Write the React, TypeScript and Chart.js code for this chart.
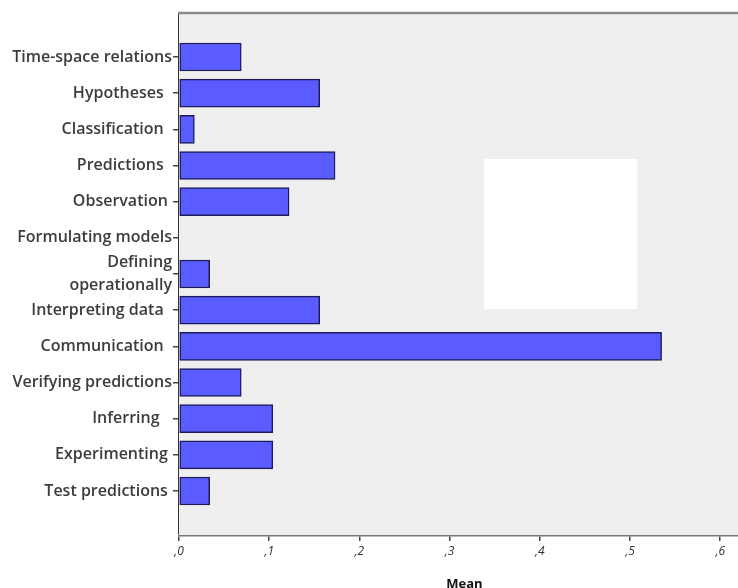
import { useEffect, useRef } from 'react';
import { Chart, registerables } from 'chart.js';

Chart.register(...registerables);

const categories: (string | string[])[] = [
  'Time-space relations',
  'Hypotheses  ',
  'Classification  ',
  'Predictions  ',
  'Observation ',
  'Formulating models',
  ['Defining', 'operationally'],
  'Interpreting data  ',
  'Communication  ',
  'Verifying predictions',
  'Inferring   ',
  'Experimenting ',
  'Test predictions ',
];
const means = [0.069, 0.156, 0.017, 0.173, 0.122, 0, 0.034, 0.156, 0.535, 0.069, 0.104, 0.104, 0.034];
const xTickValues = [0, 0.1, 0.2, 0.3, 0.4, 0.5, 0.6];
const xTickLabels = [',0', ',1', ',2', ',3', ',4', ',5', ',6'];
const axisTitle = 'Mean';
const xMax = 0.633;
const yEdgePad = 1.217;
// blank (white) patch in the reference, in data units
const blankX = [0.338, 0.508];
const blankY = [2.82, 6.97];

export default function App() {
  const ref = useRef<HTMLCanvasElement | null>(null);

  useEffect(() => {
    const canvas = ref.current;
    if (!canvas) return;

    const bgPlugin = {
      id: 'bgPlugin',
      beforeDatasetsDraw(chart: any) {
        const { ctx, chartArea, scales } = chart;
        ctx.save();
        ctx.fillStyle = '#efefef';
        ctx.fillRect(chartArea.left, chartArea.top, chartArea.right - chartArea.left, chartArea.bottom - chartArea.top);
        const x0 = scales.x.getPixelForValue(blankX[0]);
        const x1 = scales.x.getPixelForValue(blankX[1]);
        const y0 = scales.y.getPixelForValue(blankY[0]);
        const y1 = scales.y.getPixelForValue(blankY[1]);
        ctx.fillStyle = '#ffffff';
        ctx.fillRect(x0, y0, x1 - x0, y1 - y0);
        ctx.restore();
      },
      afterDraw(chart: any) {
        const { ctx, chartArea } = chart;
        ctx.save();
        ctx.strokeStyle = '#8c8c8c';
        ctx.lineWidth = 2.5;
        ctx.beginPath();
        ctx.moveTo(chartArea.left - 1, chartArea.top);
        ctx.lineTo(chartArea.right, chartArea.top);
        ctx.stroke();
        ctx.restore();
      },
    };

    const chart = new Chart(canvas, {
      type: 'bar',
      data: {
        datasets: [
          {
            data: means.map((v, i) => ({ x: v, y: i })),
            backgroundColor: '#5a5cff',
            borderColor: '#1c1c5c',
            borderWidth: 1.5,
            borderSkipped: false,
            barThickness: 28,
          },
        ],
      },
      options: {
        indexAxis: 'y',
        animation: false,
        responsive: false,
        layout: { padding: { left: 0, top: 13, right: 10, bottom: 0 } },
        plugins: { legend: { display: false }, tooltip: { enabled: false } },
        scales: {
          y: {
            type: 'linear',
            reverse: true,
            offset: false,
            min: -yEdgePad,
            max: categories.length - 1 + yEdgePad,
            afterBuildTicks: (s: any) => {
              s.ticks = categories.map((_, i) => ({ value: i }));
            },
            afterFit: (s: any) => {
              s.width = 179;
            },
            ticks: {
              autoSkip: false,
              padding: 1,
              color: '#3c3c3c',
              font: { family: 'Open Sans', size: 16, weight: '600', lineHeight: 1.4 },
              callback: (v: any) => categories[v as number],
            },
            grid: { drawOnChartArea: false, offset: false, tickLength: 6, color: '#444', lineWidth: 1.5 },
            border: { color: '#333', width: 1.5 },
          },
          x: {
            type: 'linear',
            min: 0,
            max: xMax,
            afterBuildTicks: (s: any) => {
              s.ticks = xTickValues.map((v) => ({ value: v }));
            },
            afterFit: (s: any) => {
              s.height = 53;
            },
            ticks: {
              padding: 3,
              color: '#333',
              font: { family: 'Open Sans', size: 12, style: 'italic' },
              callback: (_v: any, i: number) => xTickLabels[i],
            },
            grid: { drawOnChartArea: false, tickLength: 6, color: '#444', lineWidth: 1.5 },
            border: { color: '#777', width: 2.5 },
            title: {
              display: true,
              text: axisTitle,
              color: '#111',
              font: { family: 'Open Sans', size: 13, weight: 'bold' },
              padding: { top: 0, bottom: -4 },
            },
          },
        },
      },
      plugins: [bgPlugin],
    } as any);

    return () => chart.destroy();
  }, []);

  return (
    <div
      style={{
        position: 'fixed',
        left: 0,
        top: 0,
        width: 738,
        height: 588,
        overflow: 'hidden',
        background: '#ffffff',
      }}
    >
      <canvas ref={ref} width={760} height={588} style={{ width: 760, height: 588, display: 'block' }} />
    </div>
  );
}
